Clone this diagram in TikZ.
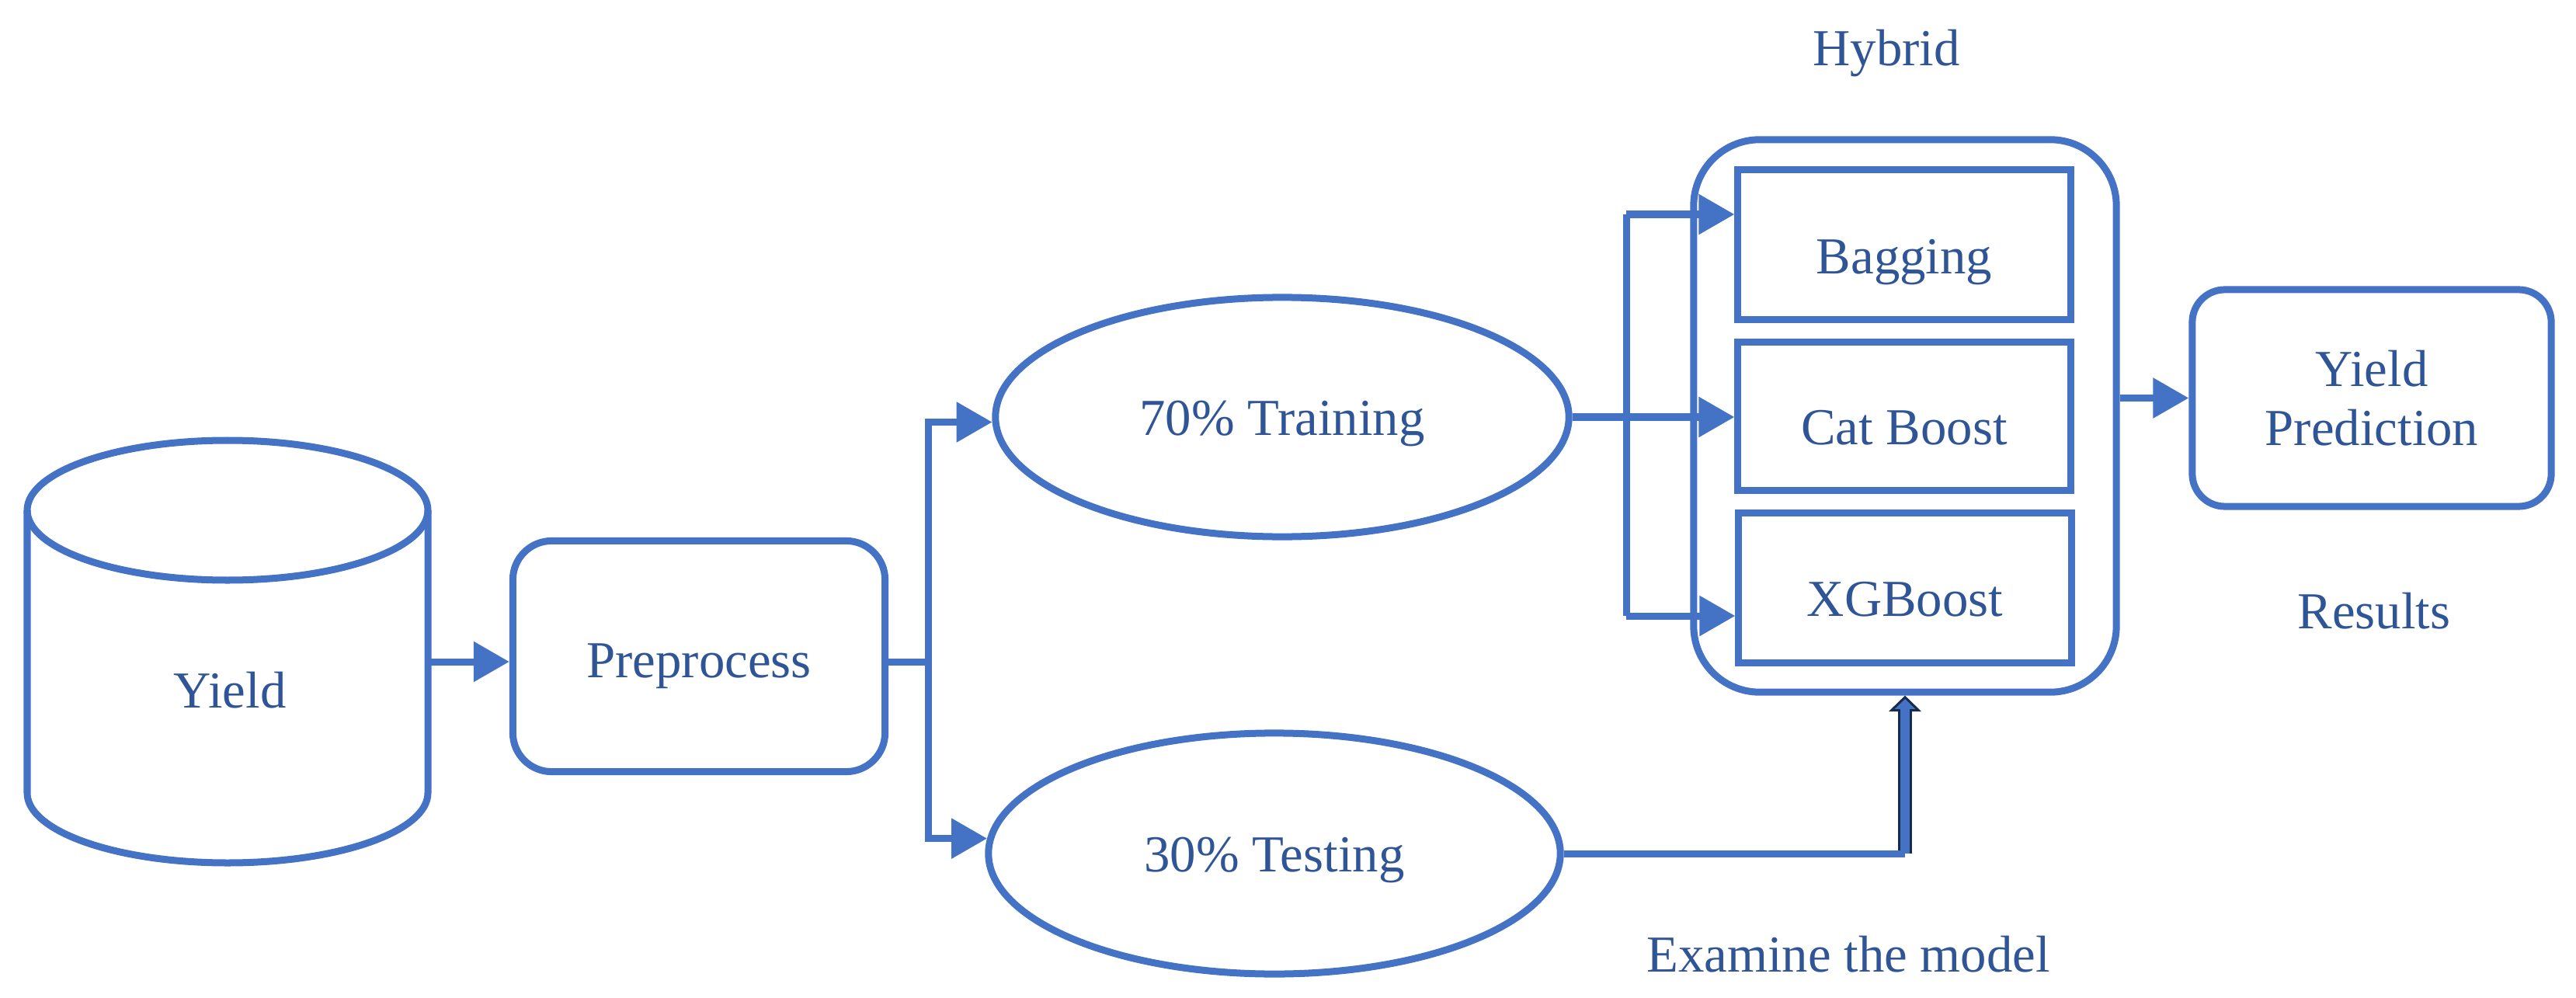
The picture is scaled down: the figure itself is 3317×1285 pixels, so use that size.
\documentclass[tikz,border=0pt]{standalone}
\usepackage{fontspec}
\setmainfont{Liberation Serif}
\usetikzlibrary{arrows.meta,shapes.geometric,calc}
\definecolor{mainblue}{HTML}{4472C4}
\definecolor{txtblue}{HTML}{2F5597}
\definecolor{dk}{HTML}{172B4D}
\tikzset{
  ln/.style={draw=mainblue, line width=0.09cm},
  arr/.style={ln, -{Triangle[length=0.46cm,width=0.5cm]}},
  txt/.style={text=txtblue, font=\fontsize{19}{21.5}\selectfont, inner sep=0pt},
  rbox/.style={ln, rectangle, txt, align=center},
  ell/.style={ln, ellipse, txt, inner sep=0pt},
}
\begin{document}
\begin{tikzpicture}[x=0.01cm, y=-0.01cm]
\useasboundingbox (0,0) rectangle (3317,1285);

% cylinder
\draw[ln, fill=white] (35,657) -- (35,1021) arc[start angle=180, end angle=0, x radius=258, y radius=90] -- (551,657);
\draw[ln] (293,657) ellipse[x radius=258, y radius=90];
\node[txt] (yield) at (296,889) {Yield};
\coordinate (cylE) at (551,852);

% nodes
\node[rbox, rounded corners=0.5cm, minimum width=4.79cm, minimum height=2.97cm, text height=0.54cm, text depth=0pt] (prep) at (900,845) {Preprocess};
\node[ell, minimum width=7.38cm, minimum height=3.08cm, text height=0.46cm, text depth=0pt] (train) at (1651,537) {70\% Training};
\node[ell, minimum width=7.36cm, minimum height=3.10cm, text height=0.46cm, text depth=0pt] (test) at (1641,1099) {30\% Testing};

\node[ln, rectangle, rounded corners=0.85cm, minimum width=5.44cm, minimum height=7.11cm] (hyb) at (2453,535.5) {};
\node[rbox, minimum width=4.28cm, minimum height=1.92cm, text height=0.74cm, text depth=0pt] (bag) at (2452,315) {Bagging};
\node[rbox, minimum width=4.28cm, minimum height=1.90cm, text height=0.72cm, text depth=0pt] (cat) at (2452,536) {Cat Boost};
\node[rbox, minimum width=4.28cm, minimum height=1.92cm, text height=0.72cm, text depth=0pt] (xgb) at (2453,757) {XGBoost};

\node[rbox, rounded corners=0.42cm, minimum width=4.62cm, minimum height=2.79cm] (yp) at (3054,512.5) {Yield\\Prediction};

\node[txt] (hybl) at (2429,69) {Hybrid};
\node[txt] (res) at (3057,787) {Results};
\node[txt] (exam) at (2380,1229) {Examine the model};

% connectors
\draw[arr] (cylE) -- (cylE -| prep.west);
\coordinate (fork) at (1195,852);
\draw[ln] (fork -| prep.east) -- (fork);
\draw[arr] (fork) |- (train.181.5);
\draw[arr] (fork) |- (test.177);

\draw[arr] (train.east) -- (train.east -| cat.west);
\coordinate (brT) at (2094,276);
\coordinate (brB) at (2094,793);
\draw[ln, line cap=square] (brT) -- (brB);
\draw[arr] (brT) -- (brT -| bag.west);
\draw[arr] (brB) -- (brB -| xgb.west);

\draw[arr] (yp.west -| hyb.east) -- (yp.west);

% testing to hybrid
\coordinate (tc) at (test.east -| hyb.south);
\draw[dk, line width=0.18cm] (tc) -- ([yshift=-0.19cm]hyb.south);
\filldraw[fill=mainblue, draw=dk, line width=0.03cm, line join=miter]
  ([yshift=-0.02cm]hyb.south) -- ([xshift=-0.175cm,yshift=-0.19cm]hyb.south)
  -- ([xshift=0.175cm,yshift=-0.19cm]hyb.south) -- cycle;
\draw[mainblue, line width=0.12cm] (tc) -- ([yshift=-0.15cm]hyb.south);
\draw[ln, line cap=square] (test.east) -- (tc);
\end{tikzpicture}
\end{document}
